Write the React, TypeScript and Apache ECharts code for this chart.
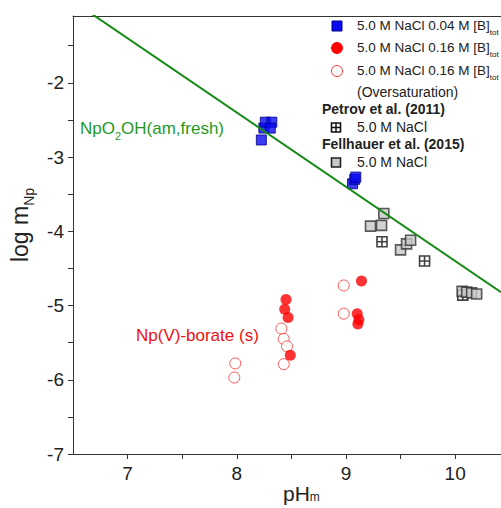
import React, { useEffect, useRef } from 'react';
import * as echarts from 'echarts';

// pH_m, log m_Np
const blueSquares = [
  [8.225, -2.77], [8.248, -2.61], [8.261, -2.53], [8.321, -2.53], [8.307, -2.61],
  [9.06, -3.36], [9.08, -3.30], [9.09, -3.27],
];
const redFilled = [
  [8.451, -4.92], [8.439, -5.05], [8.47, -5.16], [8.49, -5.67],
  [9.142, -4.67], [9.103, -5.11], [9.118, -5.19], [9.109, -5.25],
];
const redOpen = [
  [8.98, -4.73], [8.98, -5.11], [8.408, -5.31], [8.43, -5.45], [8.46, -5.55],
  [8.43, -5.79], [7.986, -5.78], [7.977, -5.97],
];
const fellhauer = [
  [9.347, -3.76], [9.225, -3.93], [9.326, -3.92], [9.5, -4.25], [9.555, -4.17], [9.592, -4.12],
  [10.064, -4.81], [10.106, -4.82], [10.151, -4.83], [10.197, -4.845],
];
const petrov = [
  [9.33, -4.14], [9.72, -4.40], [10.07, -4.86],
];
const solubilityLine = [
  [6.5, -0.9], [10.42, -4.82],
];
const xMajor = [7, 8, 9, 10];
const xTicks = [7, 7.5, 8, 8.5, 9, 9.5, 10];
const yMajor = [-7, -6, -5, -4, -3, -2];
const yTicks = [-7, -6.5, -6, -5.5, -5, -4.5, -4, -3.5, -3, -2.5, -2, -1.5];

const FONT = '"Liberation Sans", Arial, sans-serif';
const TXT = '#222';
const GREEN_TXT = '#1f9a1f';
const crossPath = 'path://M0,0H10V10H0Z M5,0V10 M0,5H10';

const legendTexts = [
  { y: 26, text: '{a|5.0 M NaCl 0.04 M [B]}{s|tot}' },
  { y: 48, text: '{a|5.0 M NaCl 0.16 M [B]}{s|tot}' },
  { y: 71, text: '{a|5.0 M NaCl 0.16 M [B]}{s|tot}' },
];

export default function App() {
  const ref = useRef<HTMLDivElement>(null);
  useEffect(() => {
    const chart = echarts.init(ref.current!, null, { renderer: 'svg' });
    const subRich = {
      a: { fontSize: 13.5, fontFamily: FONT, fill: TXT, lineHeight: 16, verticalAlign: 'top' },
      s: { fontSize: 8, fontFamily: FONT, fill: TXT, lineHeight: 8, padding: [10, 0, 0, 0], verticalAlign: 'top' },
    };
    const graphic: any[] = [
      { type: 'rect', shape: { x: 332, y: 21, width: 10, height: 10 }, style: { fill: '#0a0af0', stroke: '#00008b', lineWidth: 1 } },
      { type: 'circle', shape: { cx: 337, cy: 48, r: 5.5 }, style: { fill: '#ff0000', stroke: '#ff0000', lineWidth: 1 } },
      { type: 'circle', shape: { cx: 337, cy: 71, r: 5.5 }, style: { fill: '#fff', stroke: '#ff3030', lineWidth: 1 } },
      { type: 'rect', shape: { x: 331.5, y: 123, width: 9, height: 9 }, style: { fill: '#fff', stroke: '#111', lineWidth: 1.6 } },
      { type: 'line', shape: { x1: 336, y1: 123, x2: 336, y2: 132 }, style: { stroke: '#111', lineWidth: 1.5 } },
      { type: 'line', shape: { x1: 331.5, y1: 127.5, x2: 340.5, y2: 127.5 }, style: { stroke: '#111', lineWidth: 1.5 } },
      { type: 'rect', shape: { x: 331.5, y: 158, width: 9, height: 9 }, style: { fill: '#c8c8c8', stroke: '#222', lineWidth: 1.6 } },
      ...legendTexts.map((t) => ({
        type: 'text', left: 357, top: t.y - 8,
        style: { text: t.text, rich: subRich, fill: TXT },
      })),
      { type: 'text', left: 357, top: 93 - 8, style: { text: '(Oversaturation)', font: `14px ${FONT}`, fill: TXT } },
      { type: 'text', left: 322, top: 110 - 8, style: { text: 'Petrov et al. (2011)', font: `bold 14px ${FONT}`, fill: TXT } },
      { type: 'text', left: 357, top: 128 - 8, style: { text: '5.0 M NaCl', font: `14px ${FONT}`, fill: TXT } },
      { type: 'text', left: 322, top: 145 - 8, style: { text: 'Fellhauer et al. (2015)', font: `bold 14px ${FONT}`, fill: TXT } },
      { type: 'text', left: 357, top: 163 - 8, style: { text: '5.0 M NaCl', font: `14px ${FONT}`, fill: TXT } },
      {
        type: 'text', left: 80, top: 120,
        style: {
          text: '{a|NpO}{s|2}{a|OH(am,fresh)}',
          fill: GREEN_TXT,
          rich: {
            a: { fontSize: 17, fontFamily: FONT, fill: GREEN_TXT, lineHeight: 19, verticalAlign: 'top' },
            s: { fontSize: 11, fontFamily: FONT, fill: GREEN_TXT, lineHeight: 11, padding: [10, 0, 0, 0], verticalAlign: 'top' },
          },
        },
      },
      { type: 'text', left: 136, top: 327, style: { text: 'Np(V)-borate (s)', font: `17px ${FONT}`, fill: '#f01010' } },
      {
        type: 'text', left: 283, top: 483,
        style: {
          text: '{a|pH}{s|m}',
          fill: TXT,
          rich: {
            a: { fontSize: 21, fontFamily: FONT, fill: TXT, lineHeight: 21, verticalAlign: 'top' },
            s: { fontSize: 12, fontFamily: FONT, fill: TXT, lineHeight: 12, padding: [8, 0, 0, 0], verticalAlign: 'top' },
          },
        },
      },
    ];

    const option: any = {
      animation: false,
      backgroundColor: '#fff',
      grid: { left: 73, right: 0, top: 16, bottom: 54, containLabel: false, outerBoundsMode: 'none' },
      xAxis: [
        {
          type: 'value', min: 6.5, max: 10.42, interval: 0.5, position: 'bottom',
          axisLine: { show: true, lineStyle: { color: '#333', width: 1 } },
          axisTick: { show: true, customValues: xTicks, length: 5, lineStyle: { color: '#333' } },
          axisLabel: {
            customValues: xMajor, fontSize: 19, fontFamily: FONT, color: TXT, margin: 10,
            formatter: (v: number) => (Number.isInteger(v) ? String(v) : ''),
          },
          splitLine: { show: false },
        },
        {
          type: 'value', min: 6.5, max: 10.42, position: 'top',
          axisLine: { show: true, lineStyle: { color: '#333', width: 1 } },
          axisTick: { show: false }, axisLabel: { show: false }, splitLine: { show: false },
        },
      ],
      yAxis: [
        {
          type: 'value', min: -7, max: -1.1, interval: 0.5,
          axisLine: { show: true, lineStyle: { color: '#333', width: 1 } },
          axisTick: { show: true, customValues: yTicks, length: 5, lineStyle: { color: '#333' } },
          axisLabel: {
            customValues: yMajor, fontSize: 19, fontFamily: FONT, color: TXT, margin: 9,
            formatter: (v: number) => (Number.isInteger(v) ? String(v) : ''),
          },
          splitLine: { show: false },
          name: '{a|log m}{s|Np}', nameLocation: 'middle', nameGap: 38, nameRotate: 90,
          nameTextStyle: {
            padding: [0, 0, 0, 20],
            rich: {
              a: { fontSize: 23, fontFamily: FONT, color: TXT, lineHeight: 25, verticalAlign: 'top' },
              s: { fontSize: 14, fontFamily: FONT, color: TXT, lineHeight: 14, padding: [14, 0, 0, 0], verticalAlign: 'top' },
            },
          },
        },
      ],
      series: [
        {
          type: 'scatter', name: 'open', data: redOpen, symbol: 'circle', symbolSize: 11,
          itemStyle: { color: '#fff', borderColor: '#ff3030', borderWidth: 1 }, z: 2,
        },
        {
          type: 'scatter', name: 'filled', data: redFilled, symbol: 'circle', symbolSize: 11,
          itemStyle: { color: '#ff0000' }, z: 3,
        },
        {
          type: 'scatter', name: 'Petrov', data: petrov, symbol: crossPath, symbolSize: 10,
          itemStyle: { color: '#fff', borderColor: '#111', borderWidth: 1.6 }, z: 3,
        },
        {
          type: 'scatter', name: 'Fellhauer', data: fellhauer, symbol: 'rect', symbolSize: 10,
          itemStyle: { color: '#c8c8c8', borderColor: '#333', borderWidth: 1.6 }, z: 3,
        },
        {
          type: 'scatter', name: 'blue', data: blueSquares, symbol: 'rect', symbolSize: 10,
          itemStyle: { color: '#0a0af0', borderColor: '#00008b', borderWidth: 1 }, z: 4,
        },
        {
          type: 'line', name: 'NpO2OH', data: solubilityLine, symbol: 'none',
          lineStyle: { color: '#168a16', width: 2 }, z: 5,
        },
      ],
      graphic,
    };
    chart.setOption(option);
    return () => chart.dispose();
  }, []);
  return (
    <div
      ref={ref}
      style={{ position: 'fixed', left: 0, top: 0, width: 501, height: 508, background: '#fff' }}
    />
  );
}
